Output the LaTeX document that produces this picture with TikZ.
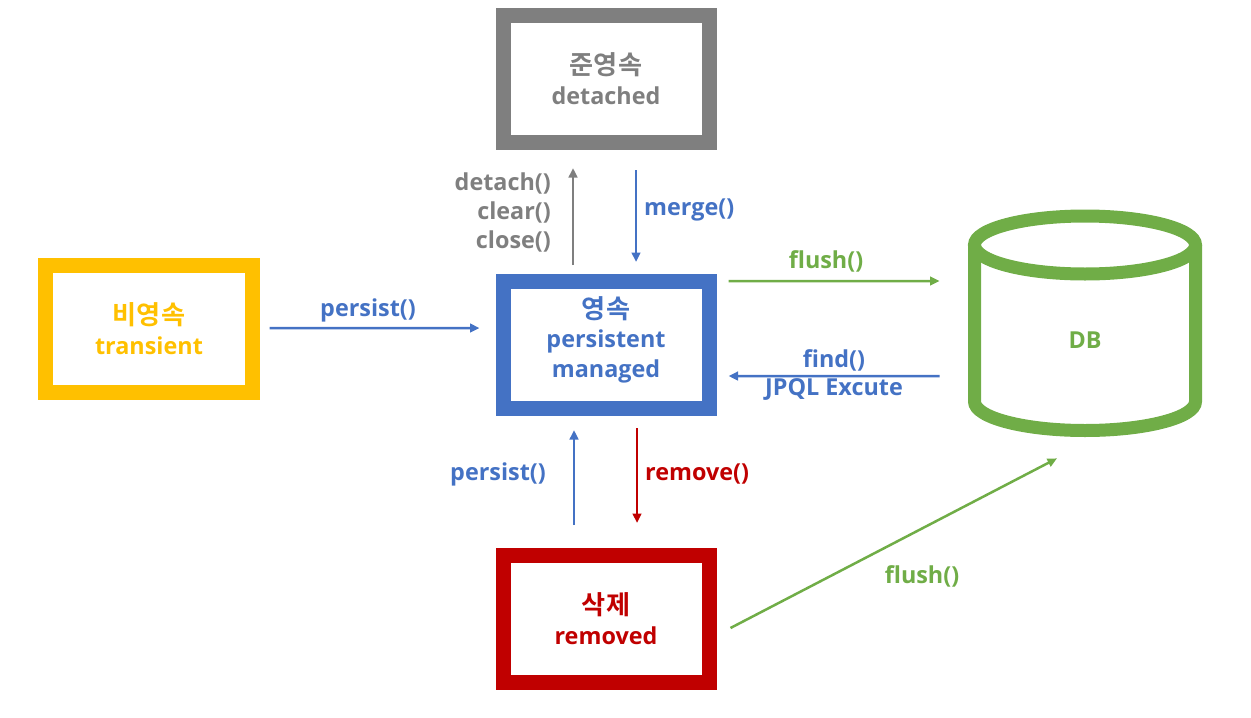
\documentclass[tikz,border=0pt]{standalone}
\usepackage{fontspec}
\setmainfont{Open Sans}
\newfontfamily\kr{Noto Sans CJK KR}[BoldFont={Noto Sans CJK KR Bold}, Scale=1.12]
\usetikzlibrary{arrows.meta}
\definecolor{stgray}{HTML}{7F7F7F}
\definecolor{styellow}{HTML}{FFC000}
\definecolor{stblue}{HTML}{4472C4}
\definecolor{stred}{HTML}{C00000}
\definecolor{stgreen}{HTML}{70AD47}
\tikzset{
	state/.style={draw, line width=3mm, minimum width=41.2mm, minimum height=25.4mm, inner sep=0pt, align=center, font=\fontsize{13.3}{17}\selectfont\bfseries},
	op/.style={font=\fontsize{13.3}{16.5}\selectfont\bfseries},
	flow/.style={line width=0.5mm, -{Triangle[length=1.9mm, width=1.7mm]}}
}
\begin{document}
\begin{tikzpicture}[x=0.2mm, y=0.2mm]
			\useasboundingbox (0,0) rectangle (1251,-718);
			\node (detached)[state, stgray] at (606,-79) {{\kr 준영속}\\detached};
			\node (transient)[state, styellow] at (149,-329) {{\kr 비영속}\\transient};
			\node (persistent)[state, stblue] at (606,-345) {{\kr 영속}\\persistent\\managed\rule[-3.2mm]{0pt}{0pt}};
			\node (removed)[state, stred] at (606,-619) {{\kr 삭제}\\removed};
			\node (db)[minimum width=46.8mm, minimum height=45.4mm, inner sep=0pt] at (1085,-323.5) {};
			\begin{scope}[stgreen, line width=2.6mm]
				\draw (974.5,-245) -- (974.5,-401.5) arc[start angle=180, end angle=360, x radius=110.5, y radius=29] -- (1195.5,-245);
				\draw (1085,-245) ellipse [x radius=110.5, y radius=29];
			\end{scope}
			\node (dblabel)[op, stgreen] at (1085,-340) {DB};
			\begin{scope}[every node/.style={op}]
				\node (persistlbl)[stblue] at (368,-310) {persist()};
				\node (detachlbl)[stgray, align=right, anchor=east] at (557,-212) {detach()\\clear()\\close()};
				\node (mergelbl)[stblue, anchor=west] at (638,-210) {merge()};
				\node (flushlbl)[stgreen] at (826,-261) {flush()};
				\node (findlbl)[stblue] at (834,-360) {find()};
				\node (jpqllbl)[stblue] at (834,-389) {JPQL Excute};
				\node (repersistlbl)[stblue] at (498,-474) {persist()};
				\node (removelbl)[stred, anchor=west] at (639,-474) {remove()};
				\node (flushdblbl)[stgreen] at (922,-576) {flush()};
			\end{scope}
			\begin{scope}[every edge/.style={draw, flow}]
				\path [stblue] ([xshift=2mm, yshift=0.2mm]transient.east) edge ([xshift=-3.2mm, yshift=3.4mm]persistent.west);
				\path [stgray] ([xshift=-6.6mm, yshift=1.8mm]persistent.north) edge ([xshift=-6.6mm, yshift=-3.6mm]detached.south);
				\path [stblue] ([xshift=6mm, yshift=-4mm]detached.south) edge ([xshift=6mm, yshift=2.4mm]persistent.north);
				\path [stgreen] ([xshift=2.4mm, yshift=12.8mm]persistent.east) edge ([xshift=-5.6mm, yshift=8.5mm]db.west);
				\path [stblue] ([xshift=-5.6mm, yshift=-10.5mm]db.west) edge ([xshift=2.4mm, yshift=-6.2mm]persistent.east);
				\path [stblue] ([xshift=-6.4mm, yshift=4.6mm]removed.north) edge ([xshift=-6.4mm, yshift=-2.8mm]persistent.south);
				\path [stred] ([xshift=6.2mm, yshift=-2.4mm]persistent.south) edge ([xshift=6.2mm, yshift=5mm]removed.north);
				\path [stgreen] ([xshift=2.8mm, yshift=-1.8mm]removed.east) edge ([xshift=-5.6mm, yshift=-4.2mm]db.south);
			\end{scope}
		\end{tikzpicture}
\end{document}
